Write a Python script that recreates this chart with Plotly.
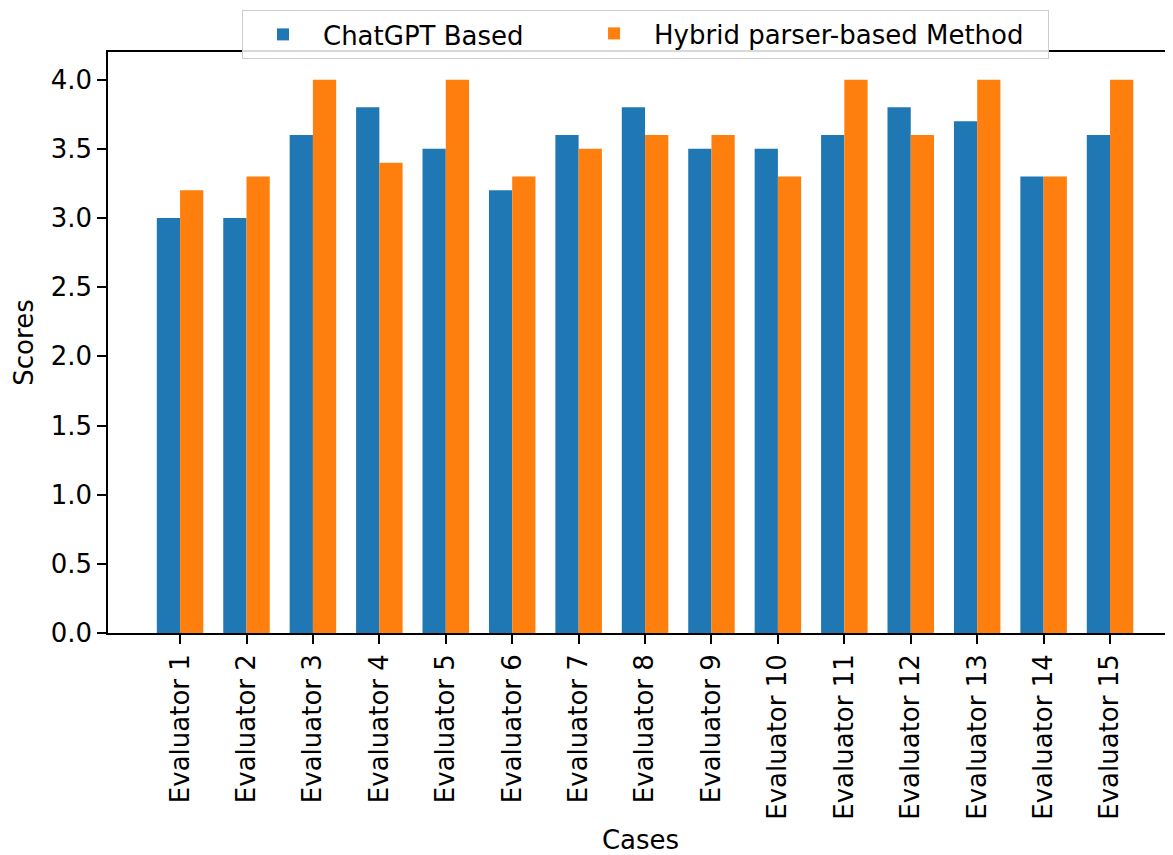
import plotly.graph_objects as go

categories = [f"Evaluator {i}" for i in range(1, 16)]
chatgpt_scores = [3.0, 3.0, 3.6, 3.8, 3.5, 3.2, 3.6, 3.8, 3.5, 3.5, 3.6, 3.8, 3.7, 3.3, 3.6]
hybrid_scores = [3.2, 3.3, 4.0, 3.4, 4.0, 3.3, 3.5, 3.6, 3.6, 3.3, 4.0, 3.6, 4.0, 3.3, 4.0]
series_names = ["ChatGPT Based", "Hybrid parser-based Method"]
y_ticks = [0.0, 0.5, 1.0, 1.5, 2.0, 2.5, 3.0, 3.5, 4.0]

FONT = "DejaVu Sans, Liberation Sans, sans-serif"
FS = 26

fig = go.Figure()
fig.add_trace(go.Bar(x=categories, y=chatgpt_scores, name=series_names[0],
                     marker=dict(color="#1f77b4", line=dict(width=0)), legend="legend"))
fig.add_trace(go.Bar(x=categories, y=hybrid_scores, name=series_names[1],
                     marker=dict(color="#ff7f0e", line=dict(width=0)), legend="legend2"))

# page body has an 8px default margin -> figure occupies 1165x847
W, H = 1165, 847
fig.update_layout(
    width=W, height=H,
    margin=dict(l=100, r=0, t=44, b=222, autoexpand=False),
    paper_bgcolor="white", plot_bgcolor="white",
    barmode="group", bargap=0.3, bargroupgap=0,
    font=dict(family=FONT, size=FS, color="black"),
    showlegend=True,
    legend=dict(orientation="h", x=0.1258, xanchor="left", y=1.0723, yanchor="top",
                bgcolor="rgba(255,255,255,0.85)", bordercolor="#cccccc", borderwidth=1,
                font=dict(size=FS, family=FONT), itemwidth=70,
                entrywidth=720, entrywidthmode="pixels"),
    legend2=dict(orientation="h", x=0.4376, xanchor="left", y=1.0723, yanchor="top",
                 bgcolor="rgba(0,0,0,0)", borderwidth=0,
                 font=dict(size=FS, family=FONT), itemwidth=70),
    xaxis=dict(
        type="category", range=[-1.085, 14.948],
        showline=True, linecolor="black", linewidth=1.6, mirror=True,
        ticks="outside", ticklen=9, tickwidth=1.6, tickcolor="black",
        tickangle=-90, showgrid=False, zeroline=False,
        title=dict(text="Cases", standoff=14, font=dict(size=FS)),
        tickfont=dict(size=FS),
    ),
    yaxis=dict(
        range=[0, 4.2], tickvals=y_ticks, tickformat=".1f",
        showline=True, linecolor="black", linewidth=1.6, mirror=False,
        ticks="outside", ticklen=9, tickwidth=1.6, tickcolor="black",
        showgrid=False, zeroline=False,
        title=dict(text="Scores", standoff=10, font=dict(size=FS)),
        tickfont=dict(size=FS),
    ),
)

fig.write_html("out.html")
